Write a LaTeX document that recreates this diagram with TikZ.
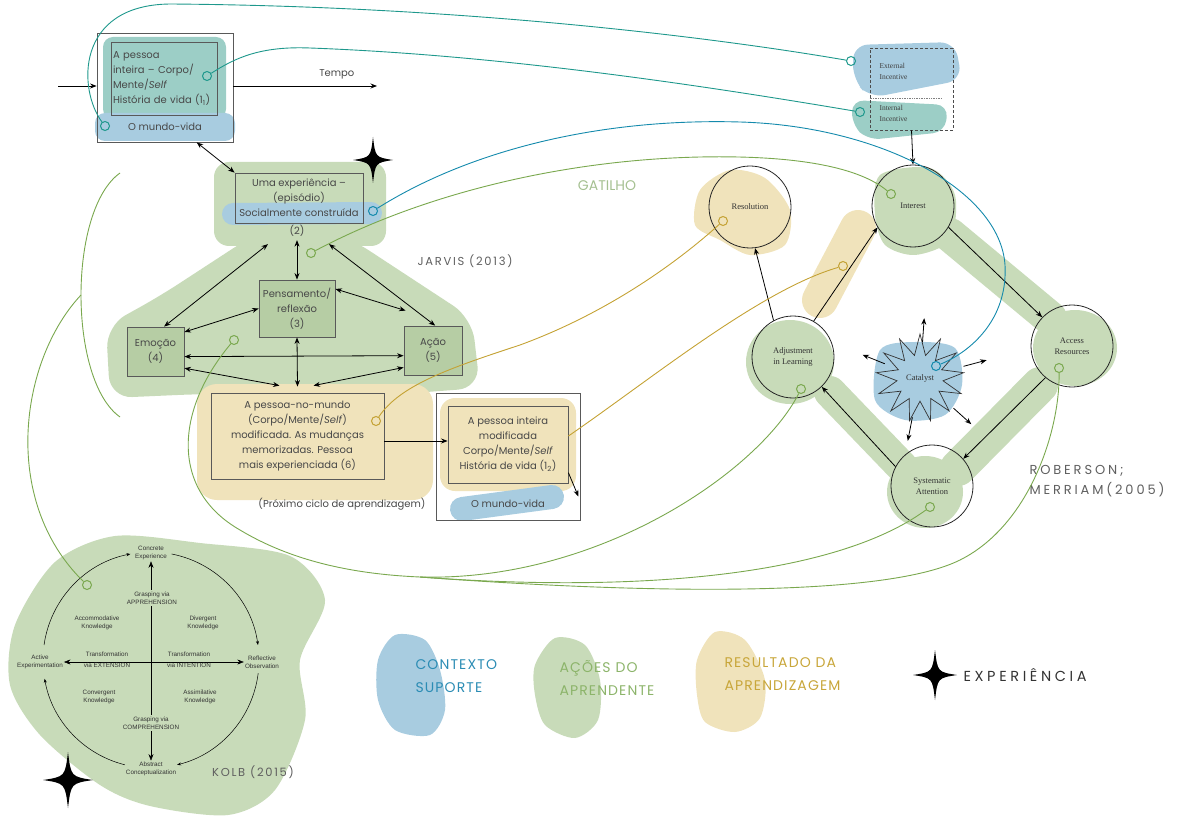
\documentclass[tikz,border=0pt]{standalone}
\usepackage{fontspec}
\setmainfont{Poppins}
\newfontfamily\serifa{Liberation Serif}
\newfontfamily\arial{Liberation Sans}
\newfontfamily\rotulo[LetterSpace=15]{Poppins}
\newfontfamily\rotulolargo[LetterSpace=22]{Poppins}
\newfontfamily\legfonte[LetterSpace=8]{Poppins}
\newfontfamily\expfonte[LetterSpace=25]{Poppins}
\usetikzlibrary{arrows.meta, shapes.geometric, calc}

\definecolor{verdeclaro}{RGB}{200,219,185}
\definecolor{verdeescuro}{RGB}{182,205,164}
\definecolor{azulclaro}{RGB}{168,204,224}
\definecolor{tealclaro}{RGB}{156,206,198}
\definecolor{begeclaro}{RGB}{240,227,187}
\definecolor{linhaverde}{RGB}{122,168,78}
\definecolor{linhateal}{RGB}{30,152,140}
\definecolor{linhaazul}{RGB}{20,138,172}
\definecolor{linhaouro}{RGB}{196,162,52}
\definecolor{textoazul}{RGB}{43,140,180}
\definecolor{textoverde}{RGB}{140,180,106}
\definecolor{textoouro}{RGB}{200,166,58}
\definecolor{textogatilho}{RGB}{165,192,145}
\definecolor{cinzatexto}{RGB}{72,72,72}
\definecolor{cinzarotulo}{RGB}{95,95,95}

\tikzset{
  estrela/.pic={\fill (0,-1) .. controls (0.12,-0.12) .. (1,0) .. controls (0.12,0.12) .. (0,1)
    .. controls (-0.12,0.12) .. (-1,0) .. controls (-0.12,-0.12) .. cycle;}
}

\begin{document}
\begin{tikzpicture}[x=1pt, y=-1pt, text=cinzatexto,
  font=\fontsize{10}{15}\selectfont,
  >={Stealth[length=6.5pt, width=5pt]},
  caixa/.style={draw=black!65, line width=0.8pt, align=center, inner sep=2pt},
  seta/.style={<->, line width=0.8pt},
  pincel/.style={draw=#1, line cap=round, line join=round},
  marca/.style={circle, draw=#1, line width=1pt, inner sep=0pt, minimum size=9pt},
  fio/.style={draw=#1, line width=0.9pt},
  roda/.style={circle, draw=black!85, line width=0.8pt, minimum size=82pt, align=center,
    inner sep=1pt, text=black!80, font=\serifa\fontsize{8.5}{10.5}\selectfont},
  kolb/.style={font=\arial\fontsize{6.3}{8.5}\selectfont, align=center, inner sep=1pt, text=black!80},
  kseta/.style={line width=0.5pt, -{Stealth[length=4pt, width=3pt]}},
  titulo/.style={font=\rotulo\fontsize{11.5}{20}\selectfont, text=cinzarotulo, align=left},
  legenda/.style={font=\legfonte\fontsize{14}{23}\selectfont, align=left, anchor=west}]
\useasboundingbox (0,0) rectangle (1185,818);

% manchas - Jarvis
\fill[tealclaro, rounded corners=10pt] (103,37) rectangle (226,119);
\fill[azulclaro, rounded corners=10pt] (95,113) rectangle (235,141);
\fill[verdeclaro, rounded corners=15pt] (214,162) rectangle (386,246);
\fill[verdeclaro, rounded corners=22pt] (300,226) -- (350,238) -- (472,318) -- (480,388)
  -- (400,394) -- (200,394) -- (110,398) -- (106,326) -- (160,296) -- (252,236) -- cycle;
\draw[pincel=azulclaro, line width=22pt] (233,214) -- (371,213);
\fill[begeclaro, rounded corners=20pt] (197,384) rectangle (433,500);
\fill[begeclaro, rounded corners=15pt] (440,398) rectangle (576,491);
\draw[pincel=azulclaro, line width=24pt] (462,509) -- (552,497);
% manchas - incentivos
\fill[azulclaro, rounded corners=15pt] (853,45) -- (955,42) -- (962,80) -- (870,98) -- (853,80) -- cycle;
\fill[tealclaro, rounded corners=12pt] (852,100) -- (948,105) -- (945,132) -- (868,140) -- (852,125) -- cycle;
% manchas - Roberson
\fill[begeclaro] plot[smooth cycle] coordinates {(700,190) (730,170) (765,178) (790,210) (785,245) (750,255) (720,240) (695,225)};
\draw[pincel=begeclaro, line width=36pt] (858,228) -- (820,300);
\fill[verdeclaro] plot[smooth cycle] coordinates {(880,175) (930,168) (955,195) (950,240) (915,255) (885,245) (875,215)};
\draw[pincel=verdeclaro, line width=34pt] (950,235) -- (1050,318);
\fill[verdeclaro] (1075,348) ellipse [x radius=42, y radius=38];
\draw[pincel=verdeclaro, line width=36pt] (1040,385) -- (958,468);
\fill[verdeclaro] (925,492) ellipse [x radius=38, y radius=36];
\draw[pincel=verdeclaro, line width=32pt] (905,470) -- (830,392);
\fill[verdeclaro] (790,362) ellipse [x radius=44, y radius=42];
\fill[azulclaro] plot[smooth cycle] coordinates {(880,350) (915,342) (955,348) (962,385) (945,415) (905,420) (875,400)};
% manchas - Kolb
\fill[verdeclaro] plot[smooth cycle] coordinates {(15,625) (55,562) (115,536) (200,543) (290,556) (325,600)
  (300,660) (305,720) (275,790) (228,815) (150,806) (100,785) (40,735) (10,685)};
% manchas - legenda
\fill[azulclaro] plot[smooth cycle] coordinates {(378,660) (395,635) (425,640) (440,670) (445,710) (430,735) (395,730) (378,700)};
\fill[verdeclaro] plot[smooth cycle] coordinates {(535,665) (555,638) (585,645) (600,680) (598,720) (575,738) (545,725) (535,695)};
\fill[begeclaro] plot[smooth cycle] coordinates {(697,660) (715,632) (745,640) (765,680) (760,718) (735,732) (705,722) (697,695)};

% Jarvis (2013)
\node[caixa, minimum width=136, minimum height=109] (caixa1) at (165,87.5) {};
\node[caixa, minimum width=106, minimum height=73, align=left, text width=102] (pessoa1) at (164,78.5)
  {A pessoa\\inteira – Corpo/\\Mente/\textit{Self}\\História de vida (1\textsubscript{1})};
\node (mundo1) at (165,127) {O mundo-vida};
\coordinate (entrada) at (58,86);
\coordinate (tempo) at (377,86);
\draw[->, line width=0.8pt] (entrada) -- (caixa1.west |- entrada);
\draw[->, line width=0.8pt] (caixa1.east |- tempo) -- (tempo) node[pos=0.72, above=3pt] {Tempo};

\node[caixa, minimum width=128, minimum height=50] (exp) at (299,198) {Uma experiência –\\(episódio)\\Socialmente construída};
\node (dois) at (297,231) {(2)};
\node[caixa, fill=verdeescuro, minimum width=76, minimum height=57] (pensa) at (297,308.5) {Pensamento/\\reflexão\\(3)};
\node[caixa, fill=verdeescuro, minimum width=57, minimum height=49] (emocao) at (155.5,351.5) {Emoção\\(4)};
\node[caixa, fill=verdeescuro, minimum width=58, minimum height=49] (acao) at (433,350.5) {Ação\\(5)};
\node[caixa, minimum width=173, minimum height=86] (caixa6) at (297.5,436)
  {A pessoa-no-mundo\\(Corpo/Mente/\textit{Self})\\modificada. As mudanças\\memorizadas. Pessoa\\mais experienciada (6)};
\node (proximo) at (342,504) {(Próximo ciclo de aprendizagem)};
\node[caixa, minimum width=144, minimum height=127] (caixa7) at (508,456.5) {};
\node[caixa, minimum width=120, minimum height=77] (pessoa7) at (508,444.5)
  {A pessoa inteira\\modificada\\Corpo/Mente/\textit{Self}\\História de vida (1\textsubscript{2})};
\node (mundo7) at (508,504) {O mundo-vida};

\draw[seta] (caixa1.-60) -- (exp.north west);
\draw[seta] (dois) -- (pensa);
\draw[seta] ($(dois.south)+(-29,4)$) -- (emocao.71);
\draw[seta] ($(dois.south)+(32,4)$) -- (acao.85);
\draw[seta] (pensa.west) -- (emocao.34);
\draw[seta] (pensa.27) -- ($(acao.north west)+(2,-15)$);
\draw[seta] (emocao.-10) -- (acao.190);
\draw[seta] (emocao.-30) -- ($(caixa6.north)+(-18,-7)$);
\draw[seta] (pensa.south) -- ($(caixa6.north)+(0,-6)$);
\draw[seta] (acao.210) -- ($(caixa6.north)+(16,-7)$);
\draw[->, line width=0.8pt] (caixa6.east |- 0,441) -- (pessoa7.west |- 0,441);
\draw[->, line width=0.8pt] (pessoa7.-25) -- ($(caixa7.east)+(-2,40)$);
\pic[xscale=20, yscale=23] at (373,160) {estrela};

\node[titulo] (jarvis) at (465,261) {JARVIS (2013)};
\node[font=\fontsize{14}{16}\selectfont, text=textogatilho] (gatilho) at (607,186) {GATILHO};

% Roberson; Merriam (2005)
\node[draw=black!70, densely dashed, line width=0.8pt, minimum width=83, minimum height=82] (incentivo) at (911.5,89) {};
\node[anchor=west, align=left, text=black!75, font=\serifa\fontsize{7.5}{11}\selectfont] (externo) at (876,71.5) {External\\Incentive};
\node[anchor=west, align=left, text=black!75, font=\serifa\fontsize{7.5}{11}\selectfont] (interno) at (876,113.5) {Internal\\Incentive};
\draw[densely dotted, black!50, line width=0.7pt] (incentivo.west |- 0,98) -- (942,98);

\node[roda] (res) at (750,207) {Resolution};
\node[roda] (interesse) at (913,206) {Interest};
\node[roda] (adj) at (793,357) {Adjustment\\in Learning};
\node[roda] (acc) at (1072,346) {Access\\Resources};
\node[roda] (sys) at (932,486) {Systematic\\Attention};
\node[star, star points=13, star point ratio=1.9, draw=black!80, line width=0.7pt, minimum size=88pt,
  inner sep=0pt, text=black!80, font=\serifa\fontsize{8.5}{10}\selectfont] (cat) at (920,378) {Catalyst};

\draw[->, line width=0.8pt] (incentivo.south) -- (interesse.north);
\draw[->, line width=0.8pt] (adj.118) -- (res.-83);
\draw[->, line width=0.8pt] (adj.60) -- (interesse.211);
\draw[->, line width=0.8pt] (interesse.-31) -- (acc.136);
\draw[->, line width=0.8pt] (acc.230) -- (sys.41);
\draw[->, line width=0.8pt] (sys.152) -- (adj.-46);
\foreach \a/\r in {86/36, 158/38, 15/45, -101/40, -42/45}
  \draw[->, line width=0.8pt] ($(cat.center)+(-\a:\r)$) -- ++(-\a:24);

\node[titulo, anchor=west, font=\rotulolargo\fontsize{13}{20}\selectfont] (roberson) at (1026,481) {ROBERSON;\\MERRIAM(2005)};

% Kolb (2015)
\begin{scope}[shift={(151,660)}, yscale=-1]
  \node[kolb] (ce) at (0,107) {Concrete\\Experience};
  \node[kolb] (ro) at (111,-2) {Reflective\\Observation};
  \node[kolb] (ac) at (0,-109) {Abstract\\Conceptualization};
  \node[kolb] (ae) at (-111,-2) {Active\\Experimentation};
  \draw[kseta, <->] (ce) -- (ac);
  \draw[kseta, <->] (ae) -- (ro);
  \node[kolb, fill=verdeclaro] (apreensao) at (1,62) {Grasping via\\APPREHENSION};
  \node[kolb, fill=verdeclaro] (compreensao) at (0,-63) {Grasping via\\COMPREHENSION};
  \node[kolb] (acomod) at (-54,37) {Accommodative\\Knowledge};
  \node[kolb] (diverg) at (52,37) {Divergent\\Knowledge};
  \node[kolb] (converg) at (-52,-37) {Convergent\\Knowledge};
  \node[kolb] (assim) at (49,-37) {Assimilative\\Knowledge};
  \node[kolb, font=\arial\fontsize{6.3}{11}\selectfont] (extensao) at (-44,0) {Transformation\\via EXTENSION};
  \node[kolb, font=\arial\fontsize{6.3}{11}\selectfont] (intencao) at (38,0) {Transformation\\via INTENTION};
  \draw[kseta] (172:108) arc[start angle=172, end angle=101, radius=108];
  \draw[kseta] (79:108) arc[start angle=79, end angle=8, radius=108];
  \draw[kseta] (-7:108) arc[start angle=-7, end angle=-76, radius=108];
  \draw[kseta] (-104:108) arc[start angle=-104, end angle=-170, radius=108];
\end{scope}
\node[titulo] (kolbtit) at (253,772) {KOLB (2015)};
\pic[xscale=25, yscale=28] at (68,780) {estrela};

% marcas
\node[marca=linhateal] (m1) at (105,126) {};
\node[marca=linhateal] (m2) at (207,76) {};
\node[marca=linhaazul] (msoc) at (373,211) {};
\node[marca=linhaverde] (mgat) at (311,253) {};
\node[marca=linhaverde] (me) at (234,340) {};
\node[marca=linhaouro] (m6) at (376,421) {};
\node[marca=linhateal] (mext) at (851,61) {};
\node[marca=linhateal] (mint) at (860,112) {};
\node[marca=linhaverde] (mi) at (891,194) {};
\node[marca=linhaouro] (mres) at (723,221) {};
\node[marca=linhaouro] (mtan) at (843,266) {};
\node[marca=linhaverde] (madj) at (801,389) {};
\node[marca=linhaverde] (macc) at (1059,368) {};
\node[marca=linhaverde] (msys) at (930,507) {};
\node[marca=linhaazul] (mcat) at (936,366) {};
\node[marca=linhaverde] (mkolb) at (87,585) {};

% ligacoes
\draw[fio=linhateal] (m1) .. controls (78,90) and (75,5) .. (170,4) .. controls (450,6) and (700,35) .. (mext);
\draw[fio=linhateal] (m2) .. controls (235,58) and (260,46) .. (310,48) .. controls (500,55) and (700,85) .. (mint);
\draw[fio=linhaazul] (msoc) .. controls (470,150) and (600,118) .. (740,122) .. controls (880,126) and (1000,190) .. (1005,265)
  .. controls (1008,320) and (970,352) .. (mcat);
\draw[fio=linhaverde] (mgat) .. controls (420,195) and (560,160) .. (700,157) .. controls (800,155) and (860,168) .. (mi);
\draw[fio=linhaouro] (m6) .. controls (400,385) and (450,368) .. (520,345) .. controls (610,312) and (680,260) .. (mres);
\draw[fio=linhaouro] (pessoa7.8) .. controls (650,380) and (760,290) .. (mtan);
\coordinate (nexo) at (420,577);
\draw[fio=linhaverde] (me) .. controls (175,410) and (170,490) .. (240,530) .. controls (290,560) and (350,574) .. (nexo)
  .. controls (600,582) and (760,470) .. (madj);
\draw[fio=linhaverde] (nexo) .. controls (620,592) and (830,580) .. (msys);
\draw[fio=linhaverde] (nexo) .. controls (620,592) and (880,600) .. (960,560) .. controls (1030,525) and (1060,430) .. (macc);
\coordinate (ca) at (120,173);
\coordinate (cb) at (120,417);
\coordinate (cm) at (81,295);
\draw[fio=linhaverde] (ca) .. controls (68,210) and (68,380) .. (cb);
\draw[fio=linhaverde] (cm) .. controls (20,360) and (0,500) .. (mkolb);

% legenda
\node[legenda, text=textoazul] (contexto) at (412,676) {CONTEXTO\\SUPORTE};
\node[legenda, text=textoverde] (acoes) at (556,678) {AÇÕES DO\\APRENDENTE};
\node[legenda, text=textoouro] (resultado) at (721,674) {RESULTADO DA\\APRENDIZAGEM};
\pic[xscale=22, yscale=25] at (935,675) {estrela};
\node[anchor=west, text=black!80, font=\expfonte\fontsize{14.5}{16}\selectfont] (experiencia) at (960,675) {EXPERIÊNCIA};
\end{tikzpicture}
\end{document}
